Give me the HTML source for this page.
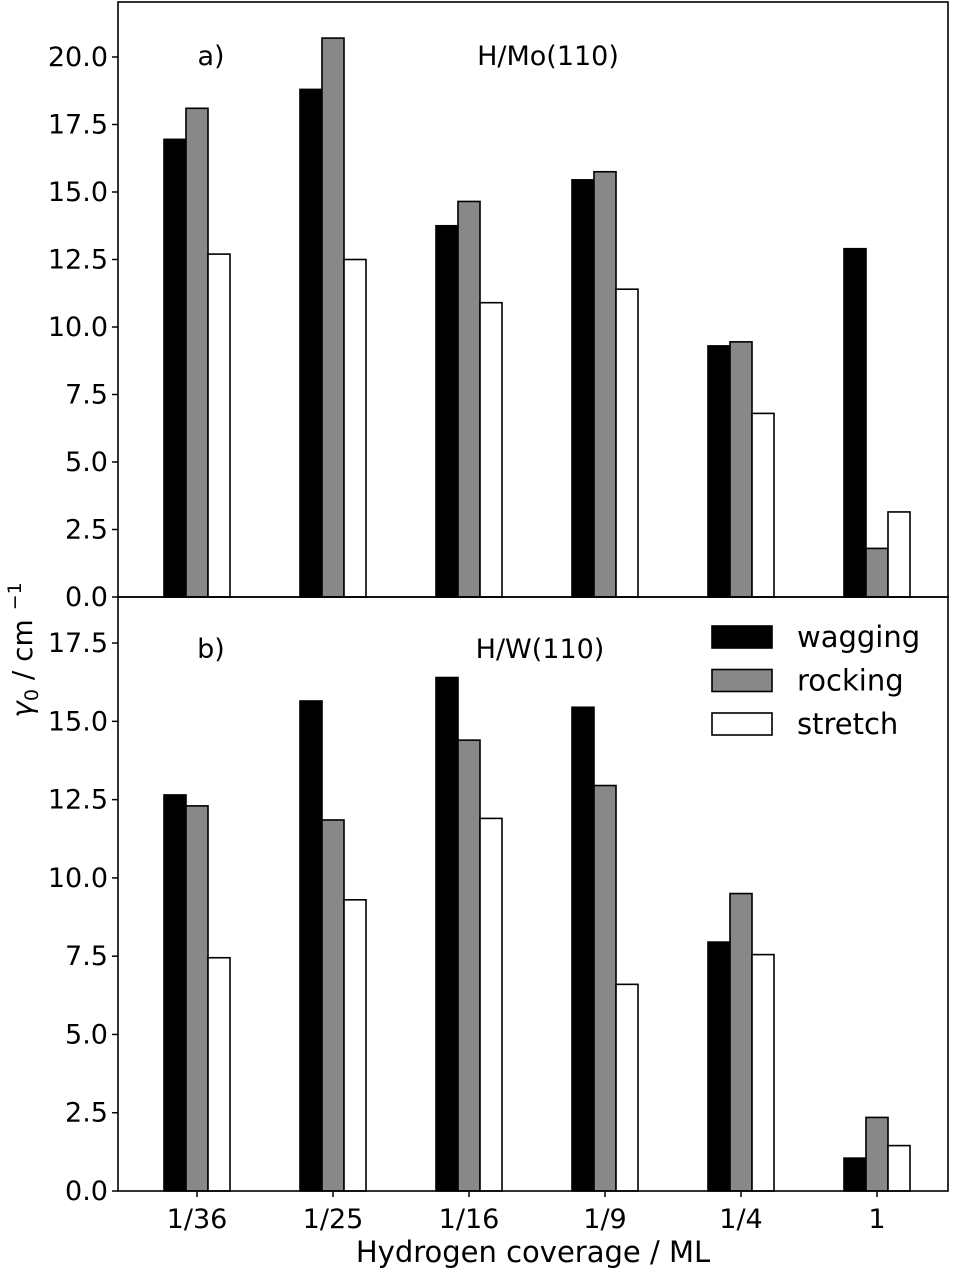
<!DOCTYPE html>
<html><head><meta charset="utf-8"><style>
body{margin:0;background:#fff}
svg text{font-family:"DejaVu Sans","Liberation Sans",sans-serif}
</style></head><body>
<svg id="chart" width="954" height="1278" viewBox="0 0 954 1278" xmlns="http://www.w3.org/2000/svg"></svg>
<script>
const categories=["1/36","1/25","1/16","1/9","1/4","1"];
const moWagging=[16.95,18.8,13.75,15.45,9.3,12.9];
const moRocking=[18.1,20.7,14.65,15.75,9.45,1.8];
const moStretch=[12.7,12.5,10.9,11.4,6.8,3.15];
const wWagging=[12.65,15.65,16.4,15.45,7.95,1.05];
const wRocking=[12.3,11.85,14.4,12.95,9.5,2.35];
const wStretch=[7.45,9.3,11.9,6.6,7.55,1.45];
const topTicks=["0.0","2.5","5.0","7.5","10.0","12.5","15.0","17.5","20.0"];
const botTicks=["0.0","2.5","5.0","7.5","10.0","12.5","15.0","17.5"];
const legendLabels=["wagging","rocking","stretch"];

const NS="http://www.w3.org/2000/svg";
const svg=document.getElementById('chart');
function mk(t,a,p){const e=document.createElementNS(NS,t);for(const k in a)e.setAttribute(k,a[k]);(p||svg).appendChild(e);return e;}
const L=118,R=948;
const x=i=>197+i*136;
const yTop=v=>597-v*27;
const yBot=v=>1191-v*31.31;
const fills=["#000","#888","#fff"];
const names=["wagging","rocking","stretch"];
function panel(name,series,yf,ticks,top,bottom){
  const g=mk('g',{});
  
  
  series.forEach((s,si)=>s.forEach((v,i)=>{
    const cx=x(i)+(si-1)*22;
    const r=mk('rect',{x:cx-11,y:yf(v),width:22,height:yf(0)-yf(v),fill:fills[si],stroke:"#000","stroke-width":1.6},g);
    
    
  }));
  ticks.forEach(t=>{
    const yy=yf(parseFloat(t));
    mk('line',{x1:L-6,x2:L,y1:yy,y2:yy,stroke:"#000","stroke-width":1.5},g);
    const tx=mk('text',{x:L-10,y:yy+9,"text-anchor":"end","font-size":27},g);
    tx.textContent=t;
    
    
  });
  mk('rect',{x:L,y:top,width:R-L,height:bottom-top,fill:"none",stroke:"#000","stroke-width":1.6},g);
}
panel('panel-mo',[moWagging,moRocking,moStretch],yTop,topTicks,2,597);
panel('panel-w',[wWagging,wRocking,wStretch],yBot,botTicks,597,1191);
categories.forEach((c,i)=>{
  mk('line',{x1:x(i),x2:x(i),y1:1191,y2:1197,stroke:"#000","stroke-width":1.5});
  const t=mk('text',{x:x(i),y:1228,"text-anchor":"middle","font-size":27});
  t.textContent=c;
  
  
});
function txt(s,xx,yy,n,sz,anch){const t=mk('text',{x:xx,y:yy,"font-size":sz||27,"text-anchor":anch||"middle"});t.textContent=s;return t;}
txt("a)",211,65,'panel-a-label');
txt("H/Mo(110)",548,65,'panel-a-title');
txt("b)",211,658,'panel-b-label');
txt("H/W(110)",540,658,'panel-b-title');
txt("Hydrogen coverage / ML",533,1262,'x-axis-title',29);
const yl=mk('text',{x:0,y:0,"font-size":28,"text-anchor":"middle",transform:"translate(32,650) rotate(-90)"});
yl.innerHTML='<tspan font-style="italic">γ</tspan><tspan font-size="19" dy="6">0</tspan><tspan dy="-6"> / cm </tspan><tspan font-size="19" dy="-11">−1</tspan>';


legendLabels.forEach((l,i)=>{
  const yy=626+i*43.5;
  const r=mk('rect',{x:712,y:yy,width:60,height:22,fill:fills[i],stroke:"#000","stroke-width":1.6});
  
  
  txt(l,797,yy+21,'legend-entry-'+l,29,'start');
});
</script>
</body></html>
